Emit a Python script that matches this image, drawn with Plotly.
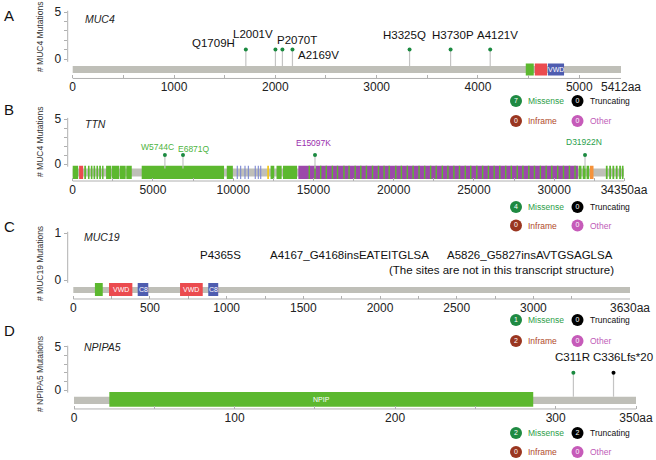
import plotly.graph_objects as go

W, H = 656, 460
FONT = "Liberation Sans, Arial, sans-serif"

# ---------------- data ----------------
genes = ["MUC4", "TTN", "MUC19", "NPIPA5"]
protein_len = [5412, 34350, 3630, 350]
ytitles = ["# MUC4 Mutations", "# MUC4 Mutations", "# MUC19 Mutations", "# NPIPA5 Mutations"]
panel_letters = ["A", "B", "C", "D"]
ymax_tick = [5, 5, 1, 5]

# MUC4
muc4_pos = [1709, 2001, 2070, 2169, 3325, 3730, 4121]
muc4_lbl = ["Q1709H", "L2001V", "P2070T", "A2169V", "H3325Q", "H3730P", "A4121V"]
muc4_cnt = [1, 1, 1, 1, 1, 1, 1]
muc4_type = ["mis"] * 7
muc4_dom = [(4472, 4551, "g", ""), (4561, 4682, "r", ""), (4690, 4850, "b", "VWD")]

# TTN
ttn_pos = [5744, 6871, 15097, 31922]
ttn_lbl = ["W5744C", "E6871Q", "E15097K", "D31922N"]
ttn_cnt = [1, 1, 1, 1]
ttn_type = ["mis"] * 4
ttn_lbl_color = ["#4db43e", "#4db43e", "#9a2fae", "#2a9f4c"]
ttn_green = [(0, 340), (720, 830), (950, 1050), (1130, 1230), (1300, 1400), (1480, 1580),
             (1650, 1760), (1830, 1920), (2080, 2400), (2440, 2900), (2940, 3300), (3340, 3680),
             (4300, 9430), (9600, 9980), (12330, 12560), (12700, 13020), (13100, 13980),
             (31520, 31700), (31780, 31960), (32020, 32180), (33220, 33330), (33430, 33540),
             (33630, 33740), (33840, 33950), (34050, 34160), (34220, 34320)]
ttn_red = [(400, 650)]
ttn_blue = [(10220, 10290), (10430, 10500), (10700, 10770), (10910, 10980), (11340, 11410),
            (11530, 11600), (11680, 11750)]
ttn_yellow = [(12120, 12230)]
ttn_orange = [(32230, 32450)]
ttn_purple = [(14060, 31480)]
ttn_purple_green = [14740, 15100, 15450, 15800, 16180, 16500, 16900, 17220, 17600, 17950,
                    18300, 18680, 19050, 19400, 19720, 20130, 20480, 20850, 21210, 21580,
                    21930, 22300, 22650, 23030, 23380, 23750, 24100, 24460, 24800, 25180,
                    25540, 25900, 26260, 26610, 26980, 27330, 27700, 28050, 28420, 28770,
                    29140, 29500, 29850, 30220, 30580, 30950, 31300]

# MUC19
muc19_lbl = ["P4365S", "A4167_G4168insEATEITGLSA", "A5826_G5827insAVTGSAGLSA"]
muc19_note = "(The sites are not in this transcript structure)"
muc19_dom = [(141, 192, "g", ""), (233, 385, "r", "VWD"), (420, 489, "b", "C8"),
             (696, 844, "r", "VWD"), (880, 945, "b", "C8")]

# NPIPA5
npipa5_pos = [311, 336]
npipa5_lbl = ["C311R", "C336Lfs*20"]
npipa5_cnt = [2, 2]
npipa5_type = ["mis", "trunc"]
npipa5_dom = [(22, 286, "g", "NPIP")]

# legend counts per panel
cnt_missense = [7, 4, 1, 2]
cnt_truncating = [0, 0, 0, 2]
cnt_inframe = [0, 0, 2, 0]
cnt_other = [0, 0, 0, 0]

# x tick labels per panel (last labelled tick before the length label)
xtick_step = [500, 2500, 250, 50]
xlabel_step = [1000, 5000, 500, 100]
xlast_label = [5000, 30000, 3000, 300]

# ---------------- style / layout ----------------
COL = {"g": "#5cb82f", "r": "#eb4b4f", "b": "#4f5db0", "lb": "#7d89d2", "p": "#9c48aa",
       "y": "#f2c81e", "o": "#f5923a"}
BACK = "#bfbfb8"
AXC = "#b0b0b0"
DOT = {"mis": "#1b8a40", "trunc": "#000000"}

geo = [
    dict(x0=72.7, x1=621, zero=59, ppu=9.4, ytop=5.15, ybot=-2.07, bb=(-1.49, -0.74), dm=(-1.76, -0.48), yline=-0.3),
    dict(x0=72.7, x1=624, zero=164, ppu=9.0, ytop=5.15, ybot=-1.89, bb=(-1.40, -0.50), dm=(-1.68, -0.20), yline=-0.3),
    dict(x0=73.3, x1=630, zero=280, ppu=47.0, ytop=1.03, ybot=-0.404, bb=(-0.277, -0.149), dm=(-0.34, -0.064), yline=-0.06),
    dict(x0=74.0, x1=636, zero=390, ppu=8.66, ytop=5.15, ybot=-2.19, bb=(-1.62, -0.77), dm=(-1.93, -0.23), yline=-0.3),
]
letter_y = [15, 110, 227, 330]
ytitle_y = [37, 142, 264, 374]
gene_xy = [(83, 19), (83, 124), (82, 237), (82, 347)]
leg_rows = [(101, 121), (207, 225.5), (320, 341), (433, 452)]
leg_cx = [516, 577.5]

lab_shift = {
    0: [(-32, 6.6), (-22, 15.6), (15, 9.6), (26, -5.4), (-5, 14.6), (2, 14.6), (7, 14.6)],
    1: [(-7, 8.3), (11, 5.7), (-2, 12.3), (-1, 13)],
    3: [(-1, 15.7), (9, 15.7)],
}

fig = go.Figure()
shapes, annotations = [], []
layout = dict(width=W, height=H, autosize=False, margin=dict(l=0, r=0, t=0, b=0, pad=0, autoexpand=False),
              paper_bgcolor="white", plot_bgcolor="rgba(0,0,0,0)", showlegend=False,
              font=dict(family=FONT, color="#222"))

def px2x(px):
    return px / W

def px2y(py):
    return 1 - py / H

for i in range(4):
    ax = "" if i == 0 else str(i + 1)
    xr, yr = "x" + ax, "y" + ax
    g = geo[i]
    L = protein_len[i]
    scale = (g["x1"] - g["x0"]) / L
    left_px = 67.7
    xr0 = -(g["x0"] - left_px) / scale
    tv, tt = [], []
    v = 0
    while v < L and v <= xlast_label[i] + xtick_step[i] * 0.5 + (xtick_step[i] if xlast_label[i] + xtick_step[i] < L else 0):
        tv.append(v)
        tt.append(str(v) if (v % xlabel_step[i] == 0 and v <= xlast_label[i]) else "")
        v += xtick_step[i]
    tv.append(L)
    tt.append(f"{L}aa")
    layout["xaxis" + ax] = dict(domain=[px2x(left_px), px2x(g["x1"] + 1)], range=[xr0, L + 1 / scale],
                               anchor=yr, showgrid=False, zeroline=False, showline=False,
                               ticks="inside", ticklen=3, tickcolor=AXC, tickwidth=1,
                               tickvals=tv, ticktext=tt, tickangle=0, automargin=False,
                               tickfont=dict(size=12, color="#222"), fixedrange=True)
    ytv = list(range(0, ymax_tick[i] + 1))
    ytt = [str(t) if t in (0, ymax_tick[i]) else "" for t in ytv]
    top_px = g["zero"] - g["ytop"] * g["ppu"]
    bot_px = g["zero"] - g["ybot"] * g["ppu"]
    layout["yaxis" + ax] = dict(domain=[px2y(bot_px), px2y(top_px)], range=[g["ybot"], g["ytop"]],
                               anchor=xr, showgrid=False, zeroline=False, showline=False,
                               ticks="outside", ticklen=3, tickcolor=AXC, tickwidth=1,
                               tickvals=ytv, ticktext=ytt, automargin=False,
                               tickfont=dict(size=12, color="#222"), fixedrange=True)
    shapes.append(dict(type="line", xref=xr + " domain", yref=yr, x0=0, x1=0, y0=g["yline"], y1=g["ytop"],
                       line=dict(color=AXC, width=1)))
    shapes.append(dict(type="line", xref=xr, yref=yr + " domain", x0=0, x1=L, y0=0, y1=0,
                       line=dict(color=AXC, width=1)))
    shapes.append(dict(type="rect", xref=xr, yref=yr, x0=0, x1=L, y0=g["bb"][0], y1=g["bb"][1],
                       fillcolor=BACK, line=dict(width=0), layer="below"))
    annotations.append(dict(text=panel_letters[i], xref="paper", yref="paper", x=px2x(9), y=px2y(letter_y[i]),
                            showarrow=False, xanchor="center", yanchor="middle", font=dict(size=15, color="#111")))
    annotations.append(dict(text=ytitles[i], xref="paper", yref="paper", x=px2x(40), y=px2y(ytitle_y[i]),
                            showarrow=False, textangle=-90, xanchor="center", yanchor="middle",
                            font=dict(size=8.5, color="#333")))
    annotations.append(dict(text="<i>" + genes[i] + "</i>", xref="paper", yref="paper", x=px2x(gene_xy[i][0]),
                            y=px2y(gene_xy[i][1]), showarrow=False, xanchor="left", yanchor="middle",
                            font=dict(size=10.5, color="#222")))

def add_domains(i, doms):
    ax = "" if i == 0 else str(i + 1)
    g = geo[i]
    for s, e, c, name in doms:
        shapes.append(dict(type="rect", xref="x" + ax, yref="y" + ax, x0=s, x1=e, y0=g["dm"][0], y1=g["dm"][1],
                           fillcolor=COL[c], line=dict(width=0), layer="below"))
        if name:
            annotations.append(dict(text=name, xref="x" + ax, yref="y" + ax, x=(s + e) / 2,
                                    y=(g["dm"][0] + g["dm"][1]) / 2, showarrow=False,
                                    font=dict(size=7, color="white")))

def add_lollipops(i, pos, cnt, types, labels, lcolors, fsize):
    ax = "" if i == 0 else str(i + 1)
    g = geo[i]
    xs, ys = [], []
    for p, c in zip(pos, cnt):
        xs += [p, p, None]
        ys += [g["bb"][1], c, None]
    fig.add_trace(go.Scatter(x=xs, y=ys, mode="lines", line=dict(color="#c4c4c4", width=1.2),
                             xaxis="x" + ax, yaxis="y" + ax, hoverinfo="skip"))
    fig.add_trace(go.Scatter(x=pos, y=cnt, mode="markers",
                             marker=dict(size=4, color=[DOT[t] for t in types]),
                             xaxis="x" + ax, yaxis="y" + ax, text=labels))
    for k, (p, c, lb) in enumerate(zip(pos, cnt, labels)):
        dx, dy = lab_shift[i][k]
        annotations.append(dict(text=lb, xref="x" + ax, yref="y" + ax, x=p, y=c, showarrow=False,
                                xanchor="center", yanchor="middle", xshift=dx, yshift=dy,
                                font=dict(size=fsize, color=lcolors[k])))

add_domains(0, muc4_dom)
add_lollipops(0, muc4_pos, muc4_cnt, muc4_type, muc4_lbl, ["#111"] * 7, 11.5)

ttn_doms = ([(s, e, "p", "") for s, e in ttn_purple] +
            [(s, e, "g", "") for s, e in ttn_green] +
            [(s - 45, s + 45, "g", "") for s in ttn_purple_green] +
            [(s, e, "r", "") for s, e in ttn_red] +
            [(s, e, "lb", "") for s, e in ttn_blue] +
            [(s, e, "y", "") for s, e in ttn_yellow] +
            [(s, e, "o", "") for s, e in ttn_orange])
add_domains(1, ttn_doms)
add_lollipops(1, ttn_pos, ttn_cnt, ttn_type, ttn_lbl, ttn_lbl_color, 8.5)

add_domains(2, muc19_dom)
for lb, (xp, yp) in zip(muc19_lbl, [(220, 255), (349, 255), (530, 255)]):
    annotations.append(dict(text=lb, xref="paper", yref="paper", x=px2x(xp), y=px2y(yp), showarrow=False,
                            xanchor="center", yanchor="middle", font=dict(size=11.5, color="#111")))
annotations.append(dict(text=muc19_note, xref="paper", yref="paper", x=px2x(501), y=px2y(270), showarrow=False,
                        xanchor="center", yanchor="middle", font=dict(size=11.5, color="#111")))

add_domains(3, npipa5_dom)
add_lollipops(3, npipa5_pos, npipa5_cnt, npipa5_type, npipa5_lbl, ["#111", "#111"], 11.5)

leg_names = [["Missense", "Truncating"], ["Inframe", "Other"]]
leg_circ = [["#1f8a42", "#000000"], ["#9a3620", "#c65bb9"]]
leg_txt = [["#2e9e48", "#111111"], ["#b04a2a", "#c05cb8"]]
lx, ly, lc, lt = [], [], [], []
for i in range(4):
    vals = [[cnt_missense[i], cnt_truncating[i]], [cnt_inframe[i], cnt_other[i]]]
    for r in range(2):
        for c in range(2):
            lx.append(leg_cx[c])
            ly.append(leg_rows[i][r])
            lc.append(leg_circ[r][c])
            lt.append(str(vals[r][c]))
            annotations.append(dict(text=leg_names[r][c], xref="paper", yref="paper",
                                    x=px2x(leg_cx[c] + 10), y=px2y(leg_rows[i][r]), showarrow=False,
                                    xanchor="left", yanchor="middle",
                                    font=dict(size=8.5, color=leg_txt[r][c])))
fig.add_trace(go.Scatter(x=lx, y=ly, mode="markers+text", text=lt, textposition="middle center",
                         marker=dict(size=12, color=lc, line=dict(width=0)),
                         textfont=dict(size=7, color="white"), xaxis="x5", yaxis="y5", hoverinfo="skip"))
layout["xaxis5"] = dict(domain=[0, 1], range=[0, W], visible=False, anchor="y5", fixedrange=True, automargin=False)
layout["yaxis5"] = dict(domain=[0, 1], range=[H, 0], visible=False, anchor="x5", fixedrange=True, automargin=False)

layout["shapes"] = shapes
layout["annotations"] = annotations
fig.update_layout(**layout)
fig.write_html("out.html", config={"displayModeBar": False},
               post_script="document.body.style.margin='0px';")
